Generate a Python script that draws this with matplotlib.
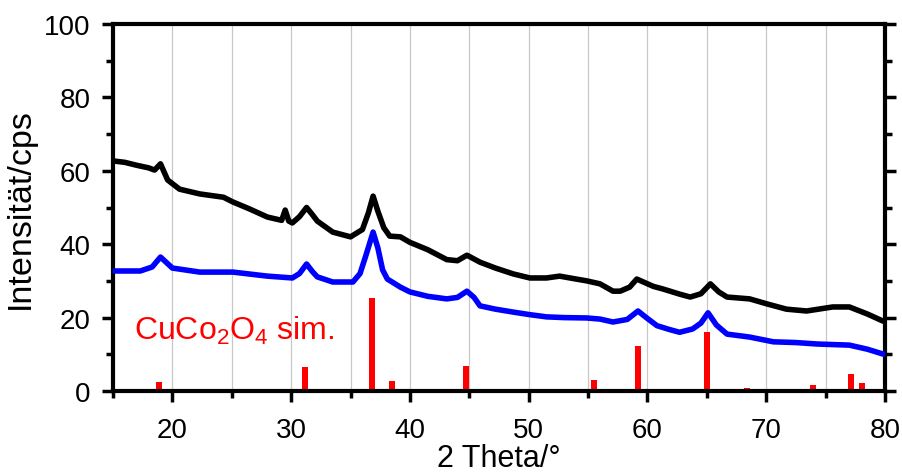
import matplotlib
matplotlib.use("Agg")
import matplotlib.pyplot as plt
from matplotlib.ticker import MultipleLocator

plt.rcParams['font.family'] = ['Liberation Sans', 'DejaVu Sans']
plt.rcParams['mathtext.fontset'] = 'custom'
plt.rcParams['mathtext.rm'] = 'Liberation Sans'
plt.rcParams['mathtext.it'] = 'Liberation Sans:italic'

# ---- data ----
black_x = [15, 16, 17, 18, 18.5, 19.0, 19.6, 20.6, 22.3, 24.3, 25.1, 26.5, 28, 29.2, 29.5,
           29.8, 30.1, 30.7, 31.3, 31.8, 32.2, 33.5, 35, 36, 36.5, 36.9, 37.3, 37.8, 38.3,
           39.2, 40, 41.5, 43.1, 44.0, 44.8, 45.9, 47.2, 48.7, 50.1, 51.5, 52.6, 54, 54.9,
           56, 57.1, 57.7, 58.5, 59.1, 59.8, 60.5, 61.3, 62.7, 63.6, 64.5, 65.3, 66.0, 66.7,
           68.6, 70.1, 71.7, 73.4, 75.6, 77, 78.5, 79.8, 80]
black_y = [62.7, 62.3, 61.5, 60.8, 60.2, 61.9, 57.5, 55, 53.7, 52.8, 51.5, 49.6, 47.4, 46.5, 49.3,
           46.3, 45.8, 47.5, 50.0, 48.0, 46.3, 43.3, 42, 44, 48.5, 53.1, 49, 44.5, 42.2,
           42, 40.5, 38.5, 35.8, 35.5, 37, 35.1, 33.5, 31.9, 30.8, 30.8, 31.3, 30.5, 30,
           29.2, 27.2, 27.2, 28.3, 30.5, 29.5, 28.5, 27.8, 26.4, 25.6, 26.5, 29.2, 27, 25.6,
           25.1, 23.7, 22.3, 21.8, 22.9, 22.9, 21, 19.1, 18.9]

blue_x = [15, 17.3, 18.3, 19.0, 20, 22.3, 25.1, 28, 30.1, 30.7, 31.3, 31.8, 32.2, 33.5, 35.2,
          35.8, 36.3, 36.9, 37.3, 37.7, 38.1, 39.2, 40, 41.5, 43.1, 44.0, 44.8, 45.4, 45.9,
          47.2, 48.7, 50.1, 51.5, 53, 54.9, 56, 57.1, 58.3, 59.2, 59.9, 60.8, 61.8, 62.7,
          63.8, 64.5, 65.1, 65.8, 66.7, 68.6, 70.6, 72.5, 74.3, 77, 78.5, 79.8, 80]
blue_y = [32.7, 32.7, 33.8, 36.5, 33.5, 32.4, 32.4, 31.3, 30.8, 32, 34.6, 32.5, 31.1, 29.7, 29.7,
          32, 37, 43.3, 39, 33, 30.5, 28.3, 27, 25.8, 25.1, 25.5, 27.2, 25.5, 23.2,
          22.3, 21.5, 20.8, 20.2, 20, 19.9, 19.6, 18.8, 19.5, 21.8, 20, 17.8, 16.8, 16,
          16.9, 18.5, 21.3, 18, 15.5, 14.7, 13.4, 13.2, 12.8, 12.5, 11.4, 10.1, 10]

sim_pos = [18.9, 31.2, 36.8, 38.5, 44.7, 48.9, 55.5, 59.2, 65.0, 68.4, 69.6, 73.9, 77.1, 78.1]
sim_int = [2.5, 6.5, 25.3, 2.8, 6.8, 0.5, 3.0, 12.3, 16.1, 0.8, 0.4, 1.6, 4.6, 2.2]

xticks = [20, 30, 40, 50, 60, 70, 80]
yticks = [0, 20, 40, 60, 80, 100]

fig = plt.figure(figsize=(9.02, 4.77), dpi=100)
ax = fig.add_axes([113/902, 1-392/477, (885-113)/902, (392-25)/477])

for gx in [20, 25, 30, 35, 40, 45, 50, 55, 60, 65, 70, 75]:
    ax.axvline(gx, color='#c8c8c8', lw=0.9, zorder=0)

ax.bar(sim_pos, sim_int, width=0.5, color='#ff0000', zorder=2)
ax.plot(black_x, black_y, color='black', lw=4, zorder=3, solid_joinstyle='round')
ax.plot(blue_x, blue_y, color='#0000ff', lw=4, zorder=3, solid_joinstyle='round')

ax.text(16.8, 14.2, r'CuCo$_\mathregular{2}$O$_\mathregular{4}$ sim.', color='#ff0000',
        fontsize=23, ha='left', va='baseline')

ax.set_xlim(15, 80)
ax.set_ylim(0, 100)
ax.set_xticks(xticks)
ax.set_yticks(yticks)
ax.xaxis.set_minor_locator(MultipleLocator(5))
ax.yaxis.set_minor_locator(MultipleLocator(10))

for s in ax.spines.values():
    s.set_linewidth(3)
ax.tick_params(which='major', direction='out', length=8, width=2.5, labelsize=20,
               right=True, top=False, pad=8)
ax.tick_params(which='minor', direction='out', length=5, width=2.5, right=True, top=False)
ax.tick_params(axis='x', which='major', pad=11)
ax.tick_params(axis='y', which='both', labelright=False)

ax.set_xlabel('2 Theta/°', fontsize=22, labelpad=0)
ax.set_ylabel('Intensität/cps', fontsize=24.5, labelpad=6)

fig.savefig('out.png', dpi=100)
